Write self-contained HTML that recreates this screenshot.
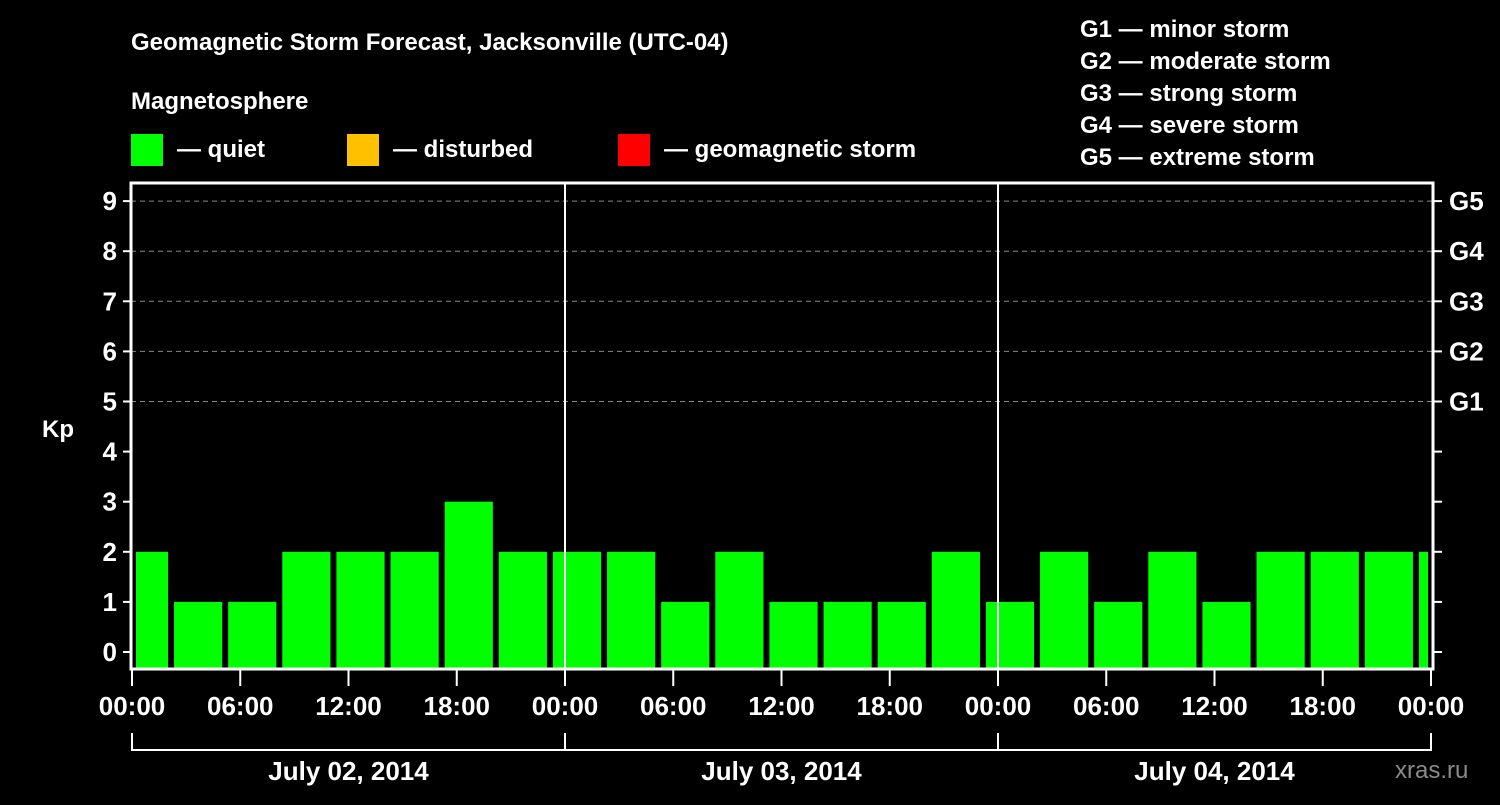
<!DOCTYPE html>
<html><head><meta charset="utf-8"><style>
body{margin:0;background:#000;width:1500px;height:800px;overflow:hidden}
svg text{font-family:"Liberation Sans",sans-serif;font-weight:bold;fill:#fff}
</style></head><body>
<svg id="c" width="1500" height="800">
<text x="131" y="50" font-size="24">Geomagnetic Storm Forecast, Jacksonville (UTC-04)</text>
<text x="131" y="109" font-size="24">Magnetosphere</text>
<rect x="131" y="134" width="32" height="32" fill="#00ff00"/>
<text x="177" y="157" font-size="24">— quiet</text>
<rect x="347" y="134" width="32" height="32" fill="#ffc000"/>
<text x="393" y="157" font-size="24">— disturbed</text>
<rect x="618" y="134" width="32" height="32" fill="#ff0000"/>
<text x="664" y="157" font-size="24">— geomagnetic storm</text>
<g font-size="24">
<text x="1080" y="37">G1 — minor storm</text>
<text x="1080" y="69">G2 — moderate storm</text>
<text x="1080" y="101">G3 — strong storm</text>
<text x="1080" y="133">G4 — severe storm</text>
<text x="1080" y="165">G5 — extreme storm</text>
</g>
<text x="42" y="437" font-size="24">Kp</text>
<text x="1395" y="778" font-size="24" fill="#888" style="fill:#8a8a8a;font-weight:normal">xras.ru</text>
<g id="plot"></g>
</svg>
<script>
const kpValues=[2,1,1,2,2,2,3,2,2,2,1,2,1,1,1,2,1,2,1,2,1,2,2,2,2];
const yTicks=[0,1,2,3,4,5,6,7,8,9];
const gLabels=["G1","G2","G3","G4","G5"];
const gLevels=[5,6,7,8,9];
const xTickLabels=["00:00","06:00","12:00","18:00","00:00","06:00","12:00","18:00","00:00","06:00","12:00","18:00","00:00"];
const dayLabels=["July 02, 2014","July 03, 2014","July 04, 2014"];
const L=131,R=1433,T=183,B=669;
const X0=132,PXH=(1431-132)/72;
const x=h=>X0+h*PXH;
const y=v=>652-v*50.1;
const NS="http://www.w3.org/2000/svg";
const g=document.getElementById('plot');
function mk(t,a){const e=document.createElementNS(NS,t);for(const k in a)e.setAttribute(k,a[k]);g.appendChild(e);return e;}
yTicks.forEach(v=>{
 if(v>=5){const l=mk('line',{x1:L,x2:R,y1:y(v),y2:y(v),stroke:'#888','stroke-dasharray':'5,4','stroke-width':1});
 
 }
 const t=mk('line',{x1:L-8,x2:L,y1:y(v),y2:y(v),stroke:'#fff','stroke-width':2});
 
 
 const t2=mk('line',{x1:R,x2:R+9,y1:y(v),y2:y(v),stroke:'#fff','stroke-width':2});
 
 
 const tx=mk('text',{x:L-14,y:y(v)+9,'text-anchor':'end','font-size':26});
 tx.textContent=v;
 
 
});
gLabels.forEach((s,i)=>{
 const tx=mk('text',{x:1449,y:y(gLevels[i])+9,'font-size':26});
 tx.textContent=s;
 
 
});
kpValues.forEach((v,k)=>{
 const h0=Math.max(0,3*k-0.67),h1=Math.min(72,3*k+2);
 const x0=Math.max(x(h0),L+5),x1=Math.min(x(h1),R-5);
 const r=mk('rect',{x:x0,y:y(v),width:x1-x0,height:B-y(v),fill:'#00ff00'});
 
 
});
[24,48].forEach(h=>{
 const l=mk('line',{x1:x(h),x2:x(h),y1:T,y2:B,stroke:'#fff','stroke-width':2});
 
 
});
const fr=mk('rect',{x:L,y:T,width:R-L,height:B-T,fill:'none',stroke:'#fff','stroke-width':3});


xTickLabels.forEach((s,i)=>{
 const h=i*6;
 const l=mk('line',{x1:x(h),x2:x(h),y1:B,y2:B+17,stroke:'#fff','stroke-width':2});
 
 
 const tx=mk('text',{x:x(h),y:715,'text-anchor':'middle','font-size':26});
 tx.textContent=s;
 
 
});
const br=mk('path',{d:`M${x(0)},733V750H${x(72)}V733M${x(24)},733V750M${x(48)},733V750`,fill:'none',stroke:'#fff','stroke-width':2});


dayLabels.forEach((s,i)=>{
 const tx=mk('text',{x:x(24*i+12),y:780,'text-anchor':'middle','font-size':26});
 tx.textContent=s;
 
 
});
</script>
</body></html>
